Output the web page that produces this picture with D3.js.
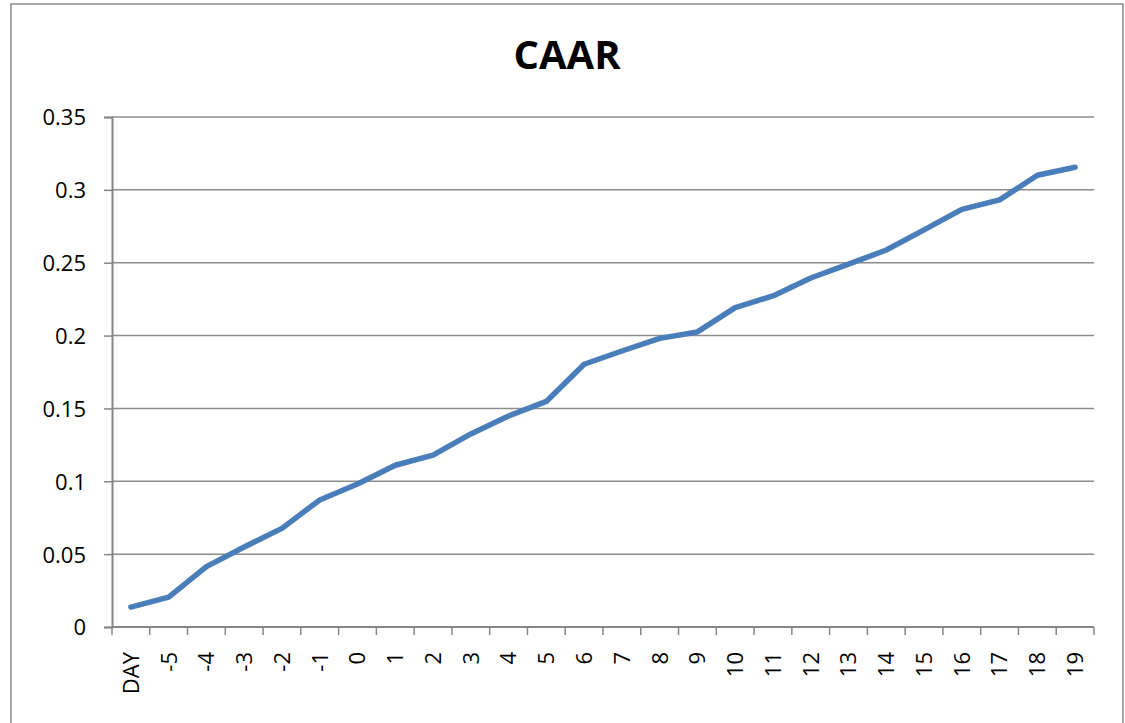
<!DOCTYPE html>
<html>
<head>
<meta charset="utf-8">
<script src="https://cdn.jsdelivr.net/npm/d3@7"></script>
<style>
  html, body { margin: 0; padding: 0; background: #fff; }
  svg { display: block; }
</style>
</head>
<body>
<svg id="chart" width="1125" height="723"></svg>
<script>
const title = "CAAR";
const categories = ["DAY","-5","-4","-3","-2","-1","0","1","2","3","4","5","6","7","8","9","10","11","12","13","14","15","16","17","18","19"];
const caarValues = [0.0137,0.0205,0.0414,0.0549,0.0677,0.0872,0.0981,0.1110,0.1180,0.1325,0.1448,0.1548,0.1803,0.1894,0.1981,0.2025,0.2192,0.2272,0.2395,0.2490,0.2587,0.2725,0.2866,0.2931,0.3100,0.3155];
const yTicks = [0,0.05,0.1,0.15,0.2,0.25,0.3,0.35];
const yTickLabels = ["0","0.05","0.1","0.15","0.2","0.25","0.3","0.35"];

const svg = d3.select("#chart");
const m = {left: 112, right: 1094, top: 117, bottom: 627};
const font = "'Open Sans', 'Liberation Sans', sans-serif";
const gridColor = "#8c8c8c";
const axisColor = "#868686";

// outer border
svg.append("rect")
  .attr("x", 11).attr("y", 4)
  .attr("width", 1112).attr("height", 740)
  .attr("fill", "#fff")
  .attr("stroke", "#8a8a8a").attr("stroke-width", 1.5);

const x = d3.scaleBand().domain(categories).range([m.left, m.right]).padding(0);
const y = d3.scaleLinear().domain([0, 0.35]).range([m.bottom, m.top]);

// gridlines
svg.append("g").selectAll("line").data(yTicks.filter(d => d > 0)).join("line")
  .attr("x1", m.left).attr("x2", m.right)
  .attr("y1", d => y(d)).attr("y2", d => y(d))
  .attr("stroke", gridColor).attr("stroke-width", 1.5);

// y axis
const yAxis = d3.axisLeft(y).tickValues(yTicks)
  .tickFormat((d, i) => yTickLabels[i]).tickSize(8).tickPadding(18);
const gy = svg.append("g").attr("transform", `translate(${m.left},0)`).call(yAxis);
gy.select(".domain").attr("stroke", axisColor).attr("stroke-width", 2);
gy.selectAll(".tick line").attr("stroke", axisColor).attr("stroke-width", 1.5);
gy.selectAll(".tick text").attr("font-family", font).attr("font-size", 22).attr("fill", "#000").attr("dy", "0.36em");

// x axis labels
const xAxis = d3.axisBottom(x).tickSize(0).tickPadding(0);
const gx = svg.append("g").attr("transform", `translate(0,${m.bottom})`).call(xAxis);
gx.select(".domain").remove();
gx.selectAll(".tick text")
  .attr("font-family", font).attr("font-size", 22).attr("fill", "#000")
  .attr("text-anchor", "end")
  .attr("transform", "translate(0,25) rotate(-90)")
  .attr("x", 0).attr("y", 0).attr("dy", "0.36em");

// x axis line and boundary ticks
svg.append("line")
  .attr("x1", m.left).attr("x2", m.right)
  .attr("y1", y(0)).attr("y2", y(0))
  .attr("stroke", axisColor).attr("stroke-width", 2);
const bounds = categories.map(c => x(c)).concat([x.range()[1]]);
svg.append("g").selectAll("line").data(bounds).join("line")
  .attr("x1", d => d).attr("x2", d => d)
  .attr("y1", y(0)).attr("y2", y(0) + 8)
  .attr("stroke", axisColor).attr("stroke-width", 1.5);

// series line
const line = d3.line()
  .x((d, i) => x(categories[i]) + x.bandwidth() / 2)
  .y(d => y(d));
svg.append("path").datum(caarValues)
  .attr("d", line)
  .attr("fill", "none")
  .attr("stroke", "#4a7ebb")
  .attr("stroke-width", 5.5)
  .attr("stroke-linejoin", "round")
  .attr("stroke-linecap", "round");

// title
svg.append("text")
  .attr("x", 567).attr("y", 69)
  .attr("text-anchor", "middle")
  .attr("font-family", font).attr("font-weight", "bold").attr("font-size", 40)
  .attr("fill", "#000")
  .text(title);
</script>
</body>
</html>
